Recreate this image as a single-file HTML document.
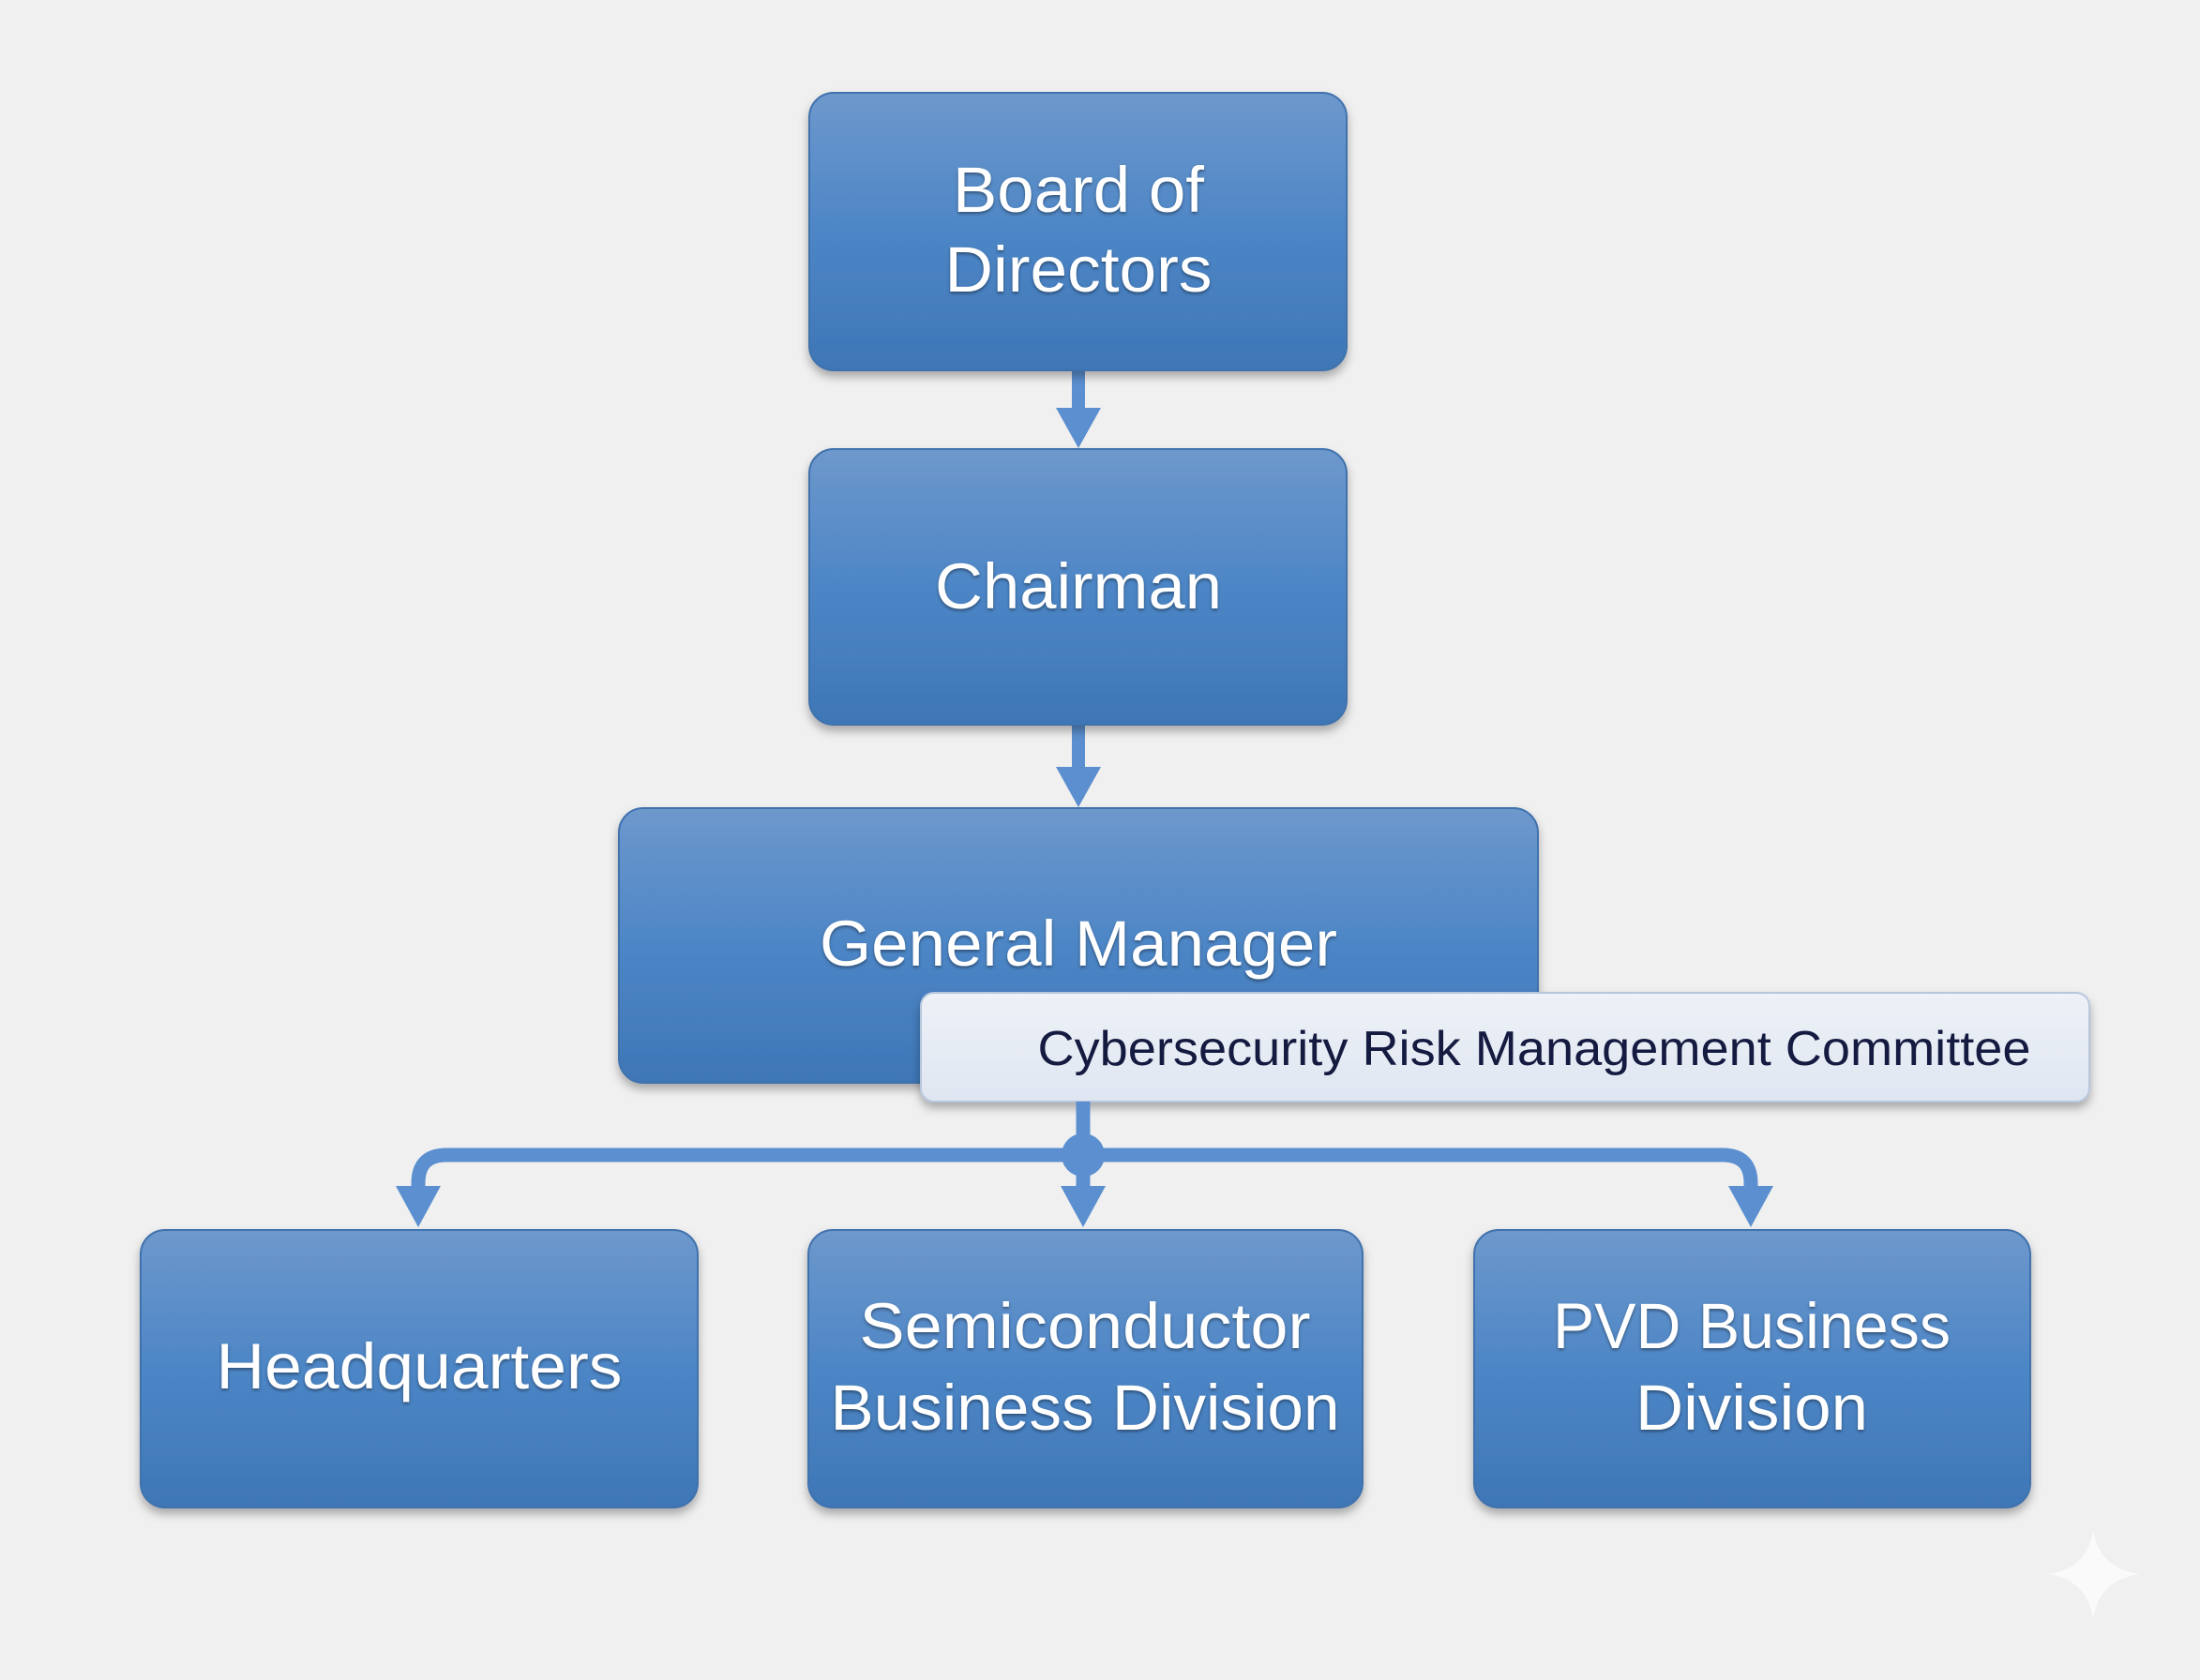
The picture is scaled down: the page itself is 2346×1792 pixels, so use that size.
<!DOCTYPE html>
<html><head><meta charset="utf-8"><style>
html,body{margin:0;padding:0;background:#f0f0f0;}
svg{display:block}
</style></head><body>
<svg width="2346" height="1792" viewBox="0 0 2346 1792" xmlns="http://www.w3.org/2000/svg">
<defs>
<linearGradient id="g" x1="0" y1="0" x2="0" y2="1">
<stop offset="0" stop-color="#6d98cc"/><stop offset="0.5" stop-color="#4d86c6"/><stop offset="1" stop-color="#3e76b6"/>
</linearGradient>
<linearGradient id="w" x1="0" y1="0" x2="0" y2="1">
<stop offset="0" stop-color="#eef1f7"/><stop offset="1" stop-color="#dfe6f1"/>
</linearGradient>
<filter id="s" x="-10%" y="-10%" width="120%" height="130%"><feDropShadow dx="0" dy="6" stdDeviation="5" flood-color="#000" flood-opacity="0.3"/></filter>
</defs>
<rect width="2346" height="1792" fill="#f0f0f0"/>
<g fill="#5b8fcf" stroke="none">
<rect x="1143" y="395" width="14" height="42"/><polygon points="1126,435 1174,435 1150,478"/>
<rect x="1143" y="773" width="14" height="48"/><polygon points="1126,818 1174,818 1150,861"/>
</g>
<g font-family="Liberation Sans, sans-serif" font-size="69" fill="#fff" text-anchor="middle" style="text-shadow:0 2px 3px rgba(0,0,0,0.4)">
<rect x="863" y="99" width="573" height="296" rx="26" fill="url(#g)" stroke="#3f72ad" stroke-width="2" filter="url(#s)"/>
<text x="1150" y="226" textLength="268" lengthAdjust="spacingAndGlyphs">Board of</text><text x="1150" y="311" textLength="285" lengthAdjust="spacingAndGlyphs">Directors</text>
<rect x="863" y="479" width="573" height="294" rx="26" fill="url(#g)" stroke="#3f72ad" stroke-width="2" filter="url(#s)"/>
<text x="1150" y="649" textLength="306" lengthAdjust="spacingAndGlyphs">Chairman</text>
<rect x="660" y="862" width="980" height="293" rx="26" fill="url(#g)" stroke="#3f72ad" stroke-width="2" filter="url(#s)"/>
<text x="1150" y="1030" textLength="552" lengthAdjust="spacingAndGlyphs">General Manager</text>
</g>
<rect x="982" y="1059" width="1246" height="116" rx="14" fill="url(#w)" stroke="#b7c7de" stroke-width="2" filter="url(#s)"/>
<text x="1636" y="1136" font-family="Liberation Sans, sans-serif" font-size="52" fill="#141a40" text-anchor="middle" textLength="1059" lengthAdjust="spacingAndGlyphs">Cybersecurity Risk Management Committee</text>
<g fill="none" stroke="#5b8fcf" stroke-width="15">
<path d="M1155 1175 V1268"/>
<path d="M446 1268 V1262 Q446 1232 476 1232 H1837 Q1867 1232 1867 1262 V1268"/>
</g>
<circle cx="1155" cy="1232" r="23" fill="#5b8fcf"/>
<g fill="#5b8fcf">
<polygon points="422,1265 470,1265 446,1309"/>
<polygon points="1131,1265 1179,1265 1155,1309"/>
<polygon points="1843,1265 1891,1265 1867,1309"/>
</g>
<g font-family="Liberation Sans, sans-serif" font-size="69" fill="#fff" text-anchor="middle" style="text-shadow:0 2px 3px rgba(0,0,0,0.4)">
<rect x="150" y="1312" width="594" height="296" rx="26" fill="url(#g)" stroke="#3f72ad" stroke-width="2" filter="url(#s)"/>
<text x="447" y="1481" textLength="433" lengthAdjust="spacingAndGlyphs">Headquarters</text>
<rect x="862" y="1312" width="591" height="296" rx="26" fill="url(#g)" stroke="#3f72ad" stroke-width="2" filter="url(#s)"/>
<text x="1157" y="1438" textLength="481" lengthAdjust="spacingAndGlyphs">Semiconductor</text><text x="1157" y="1525" textLength="543" lengthAdjust="spacingAndGlyphs">Business Division</text>
<rect x="1572" y="1312" width="593" height="296" rx="26" fill="url(#g)" stroke="#3f72ad" stroke-width="2" filter="url(#s)"/>
<text x="1868" y="1438" textLength="424" lengthAdjust="spacingAndGlyphs">PVD Business</text><text x="1868" y="1525" textLength="248" lengthAdjust="spacingAndGlyphs">Division</text>
</g>
<path d="M2232 1632 Q2238 1673 2282 1679 Q2238 1685 2232 1728 Q2226 1685 2184 1679 Q2226 1673 2232 1632Z" fill="#fafafa"/>
</svg>
</body></html>
